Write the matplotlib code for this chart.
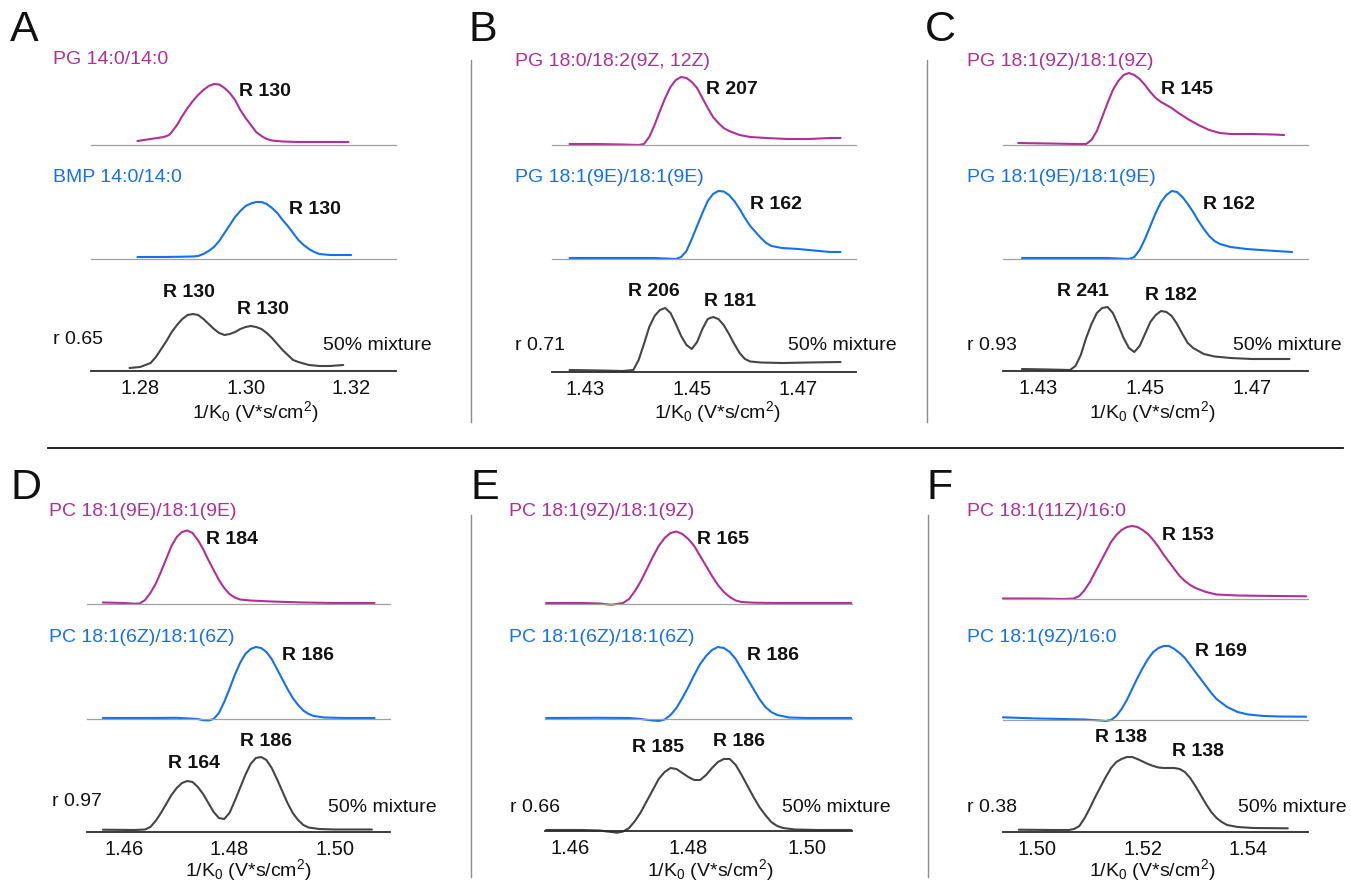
import matplotlib
matplotlib.use('Agg')
import matplotlib.pyplot as plt
from matplotlib import font_manager

W, H = 1351, 884
_names = {f.name for f in font_manager.fontManager.ttflist}
FONT = 'Liberation Sans Narrow' if 'Liberation Sans Narrow' in _names else 'Liberation Sans'
plt.rcParams['font.family'] = [FONT, 'DejaVu Sans']
plt.rcParams['mathtext.fontset'] = 'custom'
plt.rcParams['mathtext.rm'] = FONT
plt.rcParams['mathtext.it'] = FONT
plt.rcParams['mathtext.default'] = 'regular'

# ---------------- DATA ----------------
# Panel A
a_top_x = [1.2795, 1.282, 1.2845, 1.2855, 1.286, 1.287, 1.288, 1.289, 1.290, 1.291, 1.292, 1.293, 1.294, 1.295,
           1.296, 1.297, 1.298, 1.299, 1.300, 1.301, 1.302, 1.303, 1.304, 1.305, 1.307, 1.310, 1.315, 1.3195]
a_top_y = [4, 6, 8, 10, 13, 20, 29, 37, 44, 50, 55, 59, 61, 60.5, 57, 52, 45, 35, 27, 20, 13, 9, 6, 4.5, 3.5,
           3, 3, 3]
a_mid_x = [1.2795, 1.285, 1.290, 1.291, 1.292, 1.293, 1.294, 1.295, 1.296, 1.297, 1.298, 1.299, 1.300, 1.301,
           1.302, 1.303, 1.304, 1.305, 1.306, 1.307, 1.308, 1.309, 1.310, 1.311, 1.312, 1.313, 1.314, 1.316,
           1.319, 1.320]
a_mid_y = [2, 2, 2.5, 3, 5, 8, 12, 18, 26, 34, 42, 48, 53, 55.5, 57, 57, 55, 51, 46, 39, 33, 26, 19, 14, 10,
           7, 5, 4, 4, 4]
a_mix_x = [1.278, 1.280, 1.282, 1.283, 1.284, 1.285, 1.286, 1.287, 1.288, 1.289, 1.290, 1.291, 1.292, 1.293,
           1.294, 1.295, 1.296, 1.297, 1.298, 1.299, 1.300, 1.301, 1.302, 1.303, 1.304, 1.305, 1.306, 1.307,
           1.308, 1.309, 1.310, 1.312, 1.314, 1.316, 1.3185]
a_mix_y = [3, 4, 8, 14, 22, 30, 39, 46, 52, 56, 57, 56, 52, 47, 42, 38, 36, 37, 39, 42, 44, 45, 44, 42, 38,
           33, 27, 21, 16, 11, 9, 6, 5, 5, 6]

# Panel B
b_top_x = [1.427, 1.432, 1.437, 1.440, 1.441, 1.442, 1.443, 1.444, 1.445, 1.446, 1.447, 1.448, 1.449, 1.450,
           1.451, 1.452, 1.453, 1.454, 1.455, 1.456, 1.457, 1.459, 1.461, 1.464, 1.468, 1.472, 1.476, 1.478]
b_top_y = [1, 1, 0.5, 0, 1, 8, 20, 34, 47, 58, 65, 68, 67, 63, 57, 47, 37, 28, 22, 17, 14, 10, 8, 7, 6, 6, 7, 7]
b_mid_x = [1.427, 1.435, 1.443, 1.447, 1.448, 1.449, 1.450, 1.451, 1.452, 1.453, 1.454, 1.455, 1.456, 1.457,
           1.458, 1.459, 1.460, 1.461, 1.462, 1.463, 1.464, 1.465, 1.467, 1.470, 1.474, 1.476, 1.478]
b_mid_y = [1, 1, 1, 0, 2, 8, 20, 33, 46, 58, 65, 68, 67.5, 64, 58, 50, 41, 33, 27, 21, 16, 13, 11, 10, 8, 7, 7]
b_mix_x = [1.427, 1.433, 1.437, 1.439, 1.440, 1.441, 1.442, 1.443, 1.444, 1.445, 1.446, 1.447, 1.448, 1.449,
           1.450, 1.451, 1.452, 1.453, 1.454, 1.455, 1.456, 1.457, 1.458, 1.459, 1.460, 1.461, 1.463, 1.467,
           1.472, 1.478]
b_mix_y = [2, 1.5, 1, 2, 12, 28, 45, 56, 62, 64, 59, 48, 36, 27, 23, 30, 43, 53, 55, 53, 47, 38, 28, 19, 13,
           10.5, 9.5, 9, 9.5, 10]

# Panel C
c_top_x = [1.4263, 1.432, 1.437, 1.439, 1.440, 1.441, 1.442, 1.443, 1.444, 1.445, 1.446, 1.447, 1.448, 1.449,
           1.450, 1.451, 1.452, 1.453, 1.454, 1.455, 1.456, 1.458, 1.460, 1.462, 1.464, 1.466, 1.470, 1.474,
           1.476]
c_top_y = [2, 1.5, 1, 1, 5, 14, 28, 42, 55, 64, 70, 72, 70, 66, 60, 53, 47, 43, 40, 37, 33, 26, 20, 15, 12,
           11, 11, 10.5, 10]
c_mid_x = [1.427, 1.435, 1.443, 1.447, 1.448, 1.449, 1.450, 1.451, 1.452, 1.453, 1.454, 1.455, 1.456, 1.457,
           1.458, 1.459, 1.460, 1.461, 1.462, 1.463, 1.464, 1.466, 1.469, 1.473, 1.4775]
c_mid_y = [1, 1, 1, 0, 2, 9, 20, 33, 46, 57, 64, 68, 67, 62, 55, 47, 38, 30, 23, 18, 15, 12, 10, 8.5, 7]
c_mix_x = [1.427, 1.432, 1.436, 1.437, 1.438, 1.439, 1.440, 1.441, 1.442, 1.443, 1.444, 1.445, 1.446, 1.447,
           1.448, 1.449, 1.450, 1.451, 1.452, 1.453, 1.454, 1.455, 1.456, 1.457, 1.458, 1.459, 1.461, 1.463,
           1.466, 1.470, 1.477]
c_mix_y = [2, 1.5, 1, 5, 16, 33, 47, 58, 63, 64, 58, 46, 33, 23, 19, 25, 37, 49, 56, 60, 59, 55, 47, 37, 28,
           23, 17, 14.5, 13, 12, 12]

# Panel D
d_top_x = [1.456, 1.460, 1.462, 1.463, 1.464, 1.465, 1.466, 1.467, 1.468, 1.469, 1.470, 1.471, 1.472, 1.473,
           1.474, 1.475, 1.476, 1.477, 1.478, 1.479, 1.480, 1.481, 1.482, 1.484, 1.488, 1.494, 1.500, 1.5075]
d_top_y = [1.5, 1, 0.3, 0.5, 4, 11, 20, 32, 45, 58, 67, 72, 73.5, 71, 64, 55, 44, 34, 24, 16, 10, 6.5, 4.5,
           3.5, 2.5, 1.5, 1, 1]
d_mid_x = [1.456, 1.465, 1.470, 1.474, 1.475, 1.476, 1.477, 1.478, 1.479, 1.480, 1.481, 1.482, 1.483, 1.484,
           1.485, 1.486, 1.487, 1.488, 1.489, 1.490, 1.491, 1.492, 1.493, 1.494, 1.495, 1.496, 1.498, 1.502,
           1.5075]
d_mid_y = [1, 1, 1.2, 0, -1.2, -1.5, 0, 6, 17, 30, 44, 56, 65, 70, 72, 71, 67, 60, 50, 40, 30, 21, 14, 8.5, 5,
           3, 1.5, 1, 1]
d_mix_x = [1.456, 1.462, 1.464, 1.465, 1.466, 1.467, 1.468, 1.469, 1.470, 1.471, 1.472, 1.473, 1.474, 1.475,
           1.476, 1.477, 1.478, 1.479, 1.480, 1.481, 1.482, 1.483, 1.484, 1.485, 1.486, 1.487, 1.488, 1.489,
           1.490, 1.491, 1.492, 1.493, 1.494, 1.495, 1.497, 1.500, 1.507]
d_mix_y = [2.3, 2, 2.5, 5, 11, 19, 28, 37, 44, 49, 51, 50, 45, 38, 29, 20, 14, 13, 19, 31, 44, 57, 68, 74, 75,
           72, 64, 53, 41, 29, 19, 12, 7, 4.5, 3, 2.5, 2.5]

# Panel E
e_top_x = [1.456, 1.462, 1.465, 1.467, 1.469, 1.470, 1.471, 1.472, 1.473, 1.474, 1.475, 1.476, 1.477, 1.478,
           1.479, 1.480, 1.481, 1.482, 1.483, 1.484, 1.485, 1.486, 1.487, 1.488, 1.489, 1.491, 1.495, 1.500,
           1.5075]
e_top_y = [1, 1, 0.5, -0.8, 1, 5, 13, 23, 35, 47, 58, 66, 71, 72.5, 70, 65, 58, 48, 38, 28, 19, 12, 7, 3.5, 2,
           1.3, 1, 1, 1]
e_mid_x = [1.456, 1.465, 1.470, 1.472, 1.474, 1.475, 1.476, 1.477, 1.478, 1.479, 1.480, 1.481, 1.482, 1.483,
           1.484, 1.485, 1.486, 1.487, 1.488, 1.489, 1.490, 1.491, 1.492, 1.493, 1.494, 1.495, 1.497, 1.500,
           1.5075]
e_mid_y = [1, 1.2, 1, 0, -1.5, -2, -0.5, 4, 11, 21, 32, 44, 55, 63, 69, 72, 71, 67, 60, 50, 40, 30, 20, 12, 7,
           4, 1.5, 1, 1]
e_mix_x = [1.456, 1.462, 1.465, 1.467, 1.468, 1.469, 1.470, 1.471, 1.472, 1.473, 1.474, 1.475, 1.476, 1.477,
           1.478, 1.479, 1.480, 1.481, 1.482, 1.483, 1.484, 1.485, 1.486, 1.487, 1.488, 1.489, 1.490, 1.491,
           1.492, 1.493, 1.494, 1.495, 1.496, 1.498, 1.502, 1.5075]
e_mix_y = [1, 1, 0.5, -1, -1.7, -0.5, 3, 10, 19, 30, 41, 52, 59, 63, 62, 58, 54, 51, 51, 56, 63, 69, 72, 72,
           66, 56, 45, 34, 24, 16, 9, 5, 3, 1.5, 1, 1]

# Panel F
f_top_x = [1.4935, 1.500, 1.505, 1.507, 1.508, 1.509, 1.510, 1.511, 1.512, 1.513, 1.514, 1.515, 1.516, 1.517,
           1.518, 1.519, 1.520, 1.521, 1.522, 1.523, 1.524, 1.525, 1.526, 1.527, 1.528, 1.529, 1.530, 1.532,
           1.534, 1.538, 1.545, 1.551]
f_top_y = [0.5, 0.5, 0, 0.5, 3, 9, 17, 27, 37, 47, 57, 64, 69, 72, 73, 72, 69, 65, 59, 52, 44, 37, 30, 23, 18,
           14, 11, 7, 4.5, 3.5, 3, 2.7]
f_mid_x = [1.4935, 1.500, 1.505, 1.509, 1.512, 1.513, 1.514, 1.515, 1.516, 1.517, 1.518, 1.519, 1.520, 1.521,
           1.522, 1.523, 1.524, 1.525, 1.526, 1.527, 1.528, 1.529, 1.530, 1.531, 1.532, 1.533, 1.534, 1.535,
           1.536, 1.538, 1.540, 1.543, 1.546, 1.551]
f_mid_y = [2.7, 1.5, 1, 0.5, -0.5, -1, 0, 4, 11, 20, 31, 42, 52, 61, 68, 72, 74, 74, 71, 67, 62, 55, 48, 41,
           34, 27, 21, 17, 13, 8, 5.5, 4, 3.5, 3.3]
f_mix_x = [1.4965, 1.503, 1.506, 1.507, 1.508, 1.509, 1.510, 1.511, 1.512, 1.513, 1.514, 1.515, 1.516, 1.517,
           1.518, 1.519, 1.520, 1.521, 1.522, 1.523, 1.524, 1.525, 1.526, 1.527, 1.528, 1.529, 1.530, 1.531,
           1.532, 1.533, 1.534, 1.535, 1.536, 1.538, 1.541, 1.5475]
f_mix_y = [2.3, 2, 2, 3, 6, 14, 24, 35, 45, 55, 64, 70, 73, 75, 75, 73, 70.5, 68, 66, 64.5, 64, 64, 64, 63, 60,
           54, 46, 37, 28, 20, 14, 10, 7, 5, 4, 3.7]

# Text content
panel_letters = ['A', 'B', 'C', 'D', 'E', 'F']
top_names = ['PG 14:0/14:0', 'PG 18:0/18:2(9Z, 12Z)', 'PG 18:1(9Z)/18:1(9Z)',
             'PC 18:1(9E)/18:1(9E)', 'PC 18:1(9Z)/18:1(9Z)', 'PC 18:1(11Z)/16:0']
mid_names = ['BMP 14:0/14:0', 'PG 18:1(9E)/18:1(9E)', 'PG 18:1(9E)/18:1(9E)',
             'PC 18:1(6Z)/18:1(6Z)', 'PC 18:1(6Z)/18:1(6Z)', 'PC 18:1(9Z)/16:0']
top_R = [130, 207, 145, 184, 165, 153]
mid_R = [130, 162, 162, 186, 186, 169]
mix_R_left = [130, 206, 241, 164, 185, 138]
mix_R_right = [130, 181, 182, 186, 186, 138]
r_values = [0.65, 0.71, 0.93, 0.97, 0.66, 0.38]
tick_sets = [[1.28, 1.30, 1.32], [1.43, 1.45, 1.47], [1.43, 1.45, 1.47],
             [1.46, 1.48, 1.50], [1.46, 1.48, 1.50], [1.50, 1.52, 1.54]]

curves = [
    ((a_top_x, a_top_y), (a_mid_x, a_mid_y), (a_mix_x, a_mix_y)),
    ((b_top_x, b_top_y), (b_mid_x, b_mid_y), (b_mix_x, b_mix_y)),
    ((c_top_x, c_top_y), (c_mid_x, c_mid_y), (c_mix_x, c_mix_y)),
    ((d_top_x, d_top_y), (d_mid_x, d_mid_y), (d_mix_x, d_mix_y)),
    ((e_top_x, e_top_y), (e_mid_x, e_mid_y), (e_mix_x, e_mix_y)),
    ((f_top_x, f_top_y), (f_mid_x, f_mid_y), (f_mix_x, f_mix_y)),
]

# ---------------- LAYOUT (pixels) ----------------
layout = [
    dict(l=91, r=396, base=(145, 259, 371), xlim=(1.2707, 1.3285),
         letter=(10, 30), top=(53, 60), mid=(53, 177), rv=(53, 340), mixt=(323, 345),
         Rt=(239, 92), Rm=(289, 209), Rl=(163, 293), Rr=(237, 310), xl=(255, 412)),
    dict(l=552, r=856, base=(145, 259, 372), xlim=(1.4237, 1.4809),
         letter=(468, 30), top=(515, 62), mid=(515, 178), rv=(515, 345), mixt=(788, 346),
         Rt=(706, 89), Rm=(750, 204), Rl=(628, 292), Rr=(704, 301), xl=(717, 412)),
    dict(l=1003, r=1308, base=(145, 259, 371), xlim=(1.42346, 1.48047),
         letter=(925, 30), top=(967, 61), mid=(967, 178), rv=(967, 345), mixt=(1233, 345),
         Rt=(1161, 89), Rm=(1203, 204), Rl=(1057, 291), Rr=(1145, 296), xl=(1152, 412)),
    dict(l=87, r=390, base=(604, 719, 832), xlim=(1.45299, 1.51043),
         letter=(10, 488), top=(49, 512), mid=(49, 638), rv=(52, 802), mixt=(328, 807),
         Rt=(206, 540), Rm=(282, 656), Rl=(168, 763), Rr=(240, 742), xl=(248, 870)),
    dict(l=545, r=852, base=(604, 719, 831), xlim=(1.45581, 1.50763),
         letter=(470, 488), top=(509, 512), mid=(509, 638), rv=(510, 807), mixt=(782, 807),
         Rt=(697, 540), Rm=(747, 656), Rl=(632, 748), Rr=(713, 742), xl=(710, 870)),
    dict(l=1003, r=1308, base=(599, 720, 832), xlim=(1.49352, 1.55134),
         letter=(927, 488), top=(967, 512), mid=(967, 638), rv=(967, 807), mixt=(1238, 807),
         Rt=(1162, 535), Rm=(1195, 651), Rl=(1095, 738), Rr=(1172, 752), xl=(1152, 870)),
]

MAGENTA = '#b12f98'
BLUE = '#1470f2'
GRAY = '#454545'
TXT = '#111111'
FS = 14

fig = plt.figure(figsize=(W / 100, H / 100), dpi=100)


def ftext(x, y, s, **kw):
    kw.setdefault('fontsize', FS)
    kw.setdefault('color', TXT)
    kw.setdefault('ha', 'left')
    kw.setdefault('va', 'center')
    fig.text(x / W, 1 - y / H, s, **kw)


def trace_axes(L, base, bottom):
    hgt = 100
    ax = fig.add_axes([L['l'] / W, 1 - base / H, (L['r'] - L['l']) / W, hgt / H])
    ax.patch.set_alpha(0)
    ax.set_xlim(*L['xlim'])
    ax.set_ylim(0, hgt)
    for s in ('top', 'left', 'right'):
        ax.spines[s].set_visible(False)
    ax.set_yticks([])
    if bottom:
        ax.spines['bottom'].set_color('#2b2b2b')
        ax.spines['bottom'].set_linewidth(1.3)
    else:
        ax.spines['bottom'].set_color('#a0a0a0')
        ax.spines['bottom'].set_linewidth(0.9)
        ax.set_xticks([])
    return ax


for i, L in enumerate(layout):
    colors = (MAGENTA, BLUE, GRAY)
    for j in range(3):
        ax = trace_axes(L, L['base'][j], j == 2)
        xs, ys = curves[i][j]
        ax.plot(xs, ys, color=colors[j], lw=1.5, clip_on=False, solid_joinstyle='round',
                solid_capstyle='round')
        if j == 2:
            ax.set_xticks(tick_sets[i])
            ax.set_xticklabels([f'{t:.2f}' for t in tick_sets[i]], fontsize=FS + 0.5, color=TXT)
            ax.tick_params(axis='x', length=0, pad=6)
    ftext(*L['letter'], panel_letters[i], fontsize=31)
    ftext(*L['top'], top_names[i], color=MAGENTA)
    ftext(*L['mid'], mid_names[i], color=BLUE)
    ftext(*L['rv'], f'r {r_values[i]:.2f}')
    ftext(*L['mixt'], '50% mixture')
    ftext(*L['Rt'], f'R {top_R[i]}', fontweight='bold')
    ftext(*L['Rm'], f'R {mid_R[i]}', fontweight='bold')
    ftext(*L['Rl'], f'R {mix_R_left[i]}', fontweight='bold')
    ftext(*L['Rr'], f'R {mix_R_right[i]}', fontweight='bold')
    ftext(*L['xl'], r'1/K$_0$ (V*s/cm$^2$)', ha='center')

# separators
sep = fig.add_axes([0, 0, 1, 1])
sep.set_xlim(0, W)
sep.set_ylim(H, 0)
sep.axis('off')
sep.patch.set_alpha(0)
for x, y0, y1 in [(471, 60, 422), (927, 60, 422), (471, 515, 877), (928, 515, 877)]:
    sep.plot([x, x], [y0, y1], color='#8c8c8c', lw=1.0)
sep.plot([48, 1343], [448, 448], color='#111111', lw=1.3)

fig.savefig('out.png', dpi=100)
